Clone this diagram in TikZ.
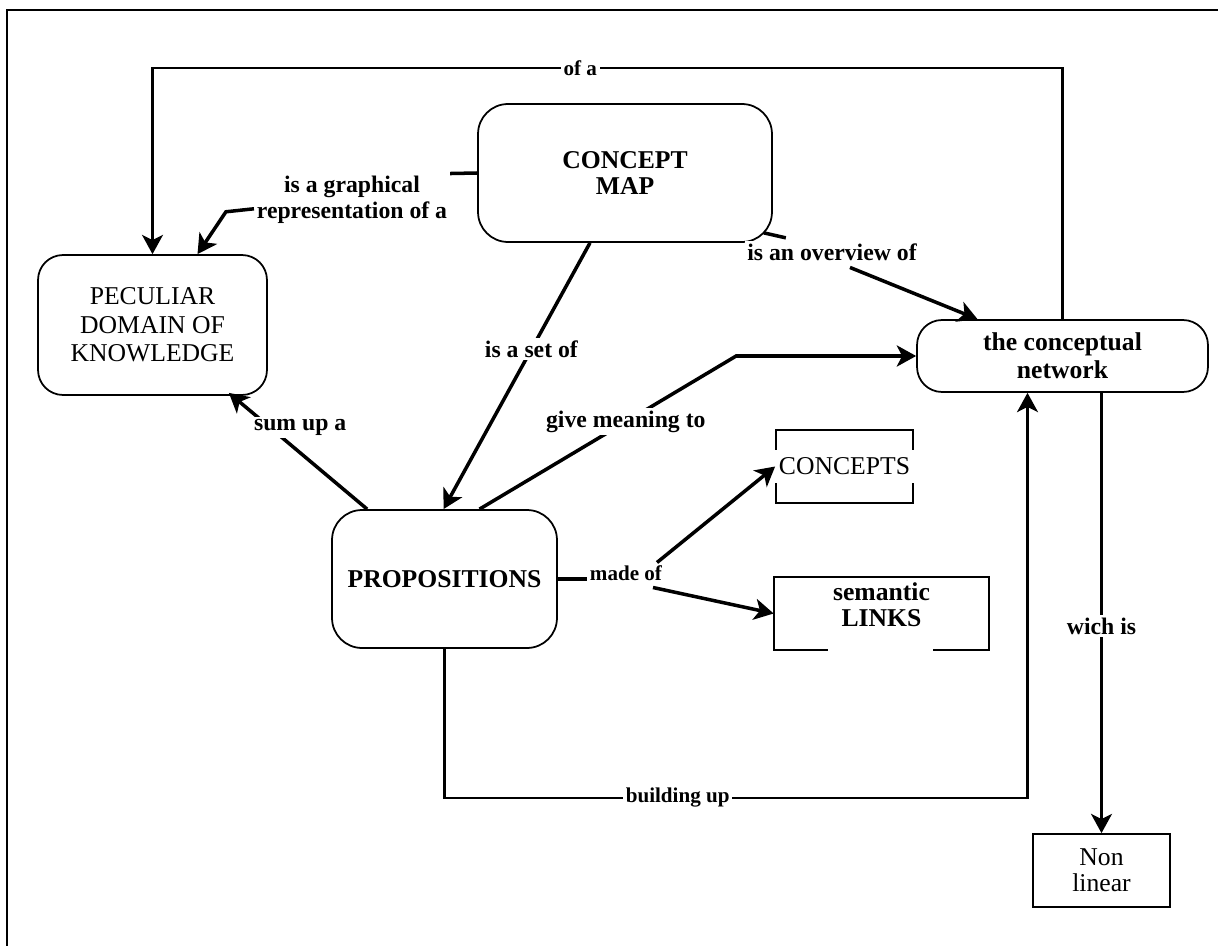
\documentclass[tikz,border=0pt]{standalone}
\usepackage{fontspec}
\setmainfont{Liberation Serif}
\usetikzlibrary{arrows.meta,calc}

\begin{document}
\begin{tikzpicture}[x=0.02cm, y=-0.02cm,
    concept/.style={draw, line width=1pt, align=center, font=\fontsize{14.6}{16.2}\selectfont},
    box/.style={draw, line width=1pt, align=center, font=\fontsize{14.6}{15}\selectfont},
    lbl/.style={fill=white, inner sep=1.5pt, align=center, font=\bfseries\fontsize{13.5}{14.5}\selectfont},
    small lbl/.style={lbl, font=\bfseries\fontsize{12}{13}\selectfont},
    link/.style={line width=2pt, -{Stealth[length=11pt, width=12pt, inset=3pt]}},
    wire/.style={line width=1.3pt, -{Stealth[length=11pt, width=12pt, inset=3pt]}}]
        \useasboundingbox (0,0) rectangle (1218,946);
        \draw[line width=1.2pt] (7,946) -- (7,10) -- (1218,10);

        \node[concept, font=\bfseries\fontsize{14.6}{15}\selectfont, rounded corners=0.6cm,
              minimum width=5.88cm, minimum height=2.76cm] (map) at (625,173) {CONCEPT\\MAP};
        \node[concept, rounded corners=0.5cm, minimum width=4.58cm, minimum height=2.8cm]
              (domain) at (152.5,325) {PECULIAR\\DOMAIN OF\\KNOWLEDGE};
        \node[concept, font=\bfseries\fontsize{14.6}{16}\selectfont, rounded corners=0.5cm,
              minimum width=5.82cm, minimum height=1.44cm] (network) at (1062.5,356) {the conceptual\\network};
        \node[concept, font=\bfseries\fontsize{14.6}{16}\selectfont, rounded corners=0.6cm,
              minimum width=4.5cm, minimum height=2.76cm] (prop) at (444.5,579) {PROPOSITIONS};

        \node[box, minimum width=2.74cm, minimum height=1.46cm] (concepts) at (844.5,466.5) {};
        \node[fill=white, inner xsep=0.09cm, inner ysep=0.16cm, font=\fontsize{14.6}{16}\selectfont]
              (conceptstxt) at (concepts) {CONCEPTS};

        % box with an open stretch in its bottom edge
        \node[minimum width=4.3cm, minimum height=1.46cm] (links) at (881.5,613.5) {};
        \draw[line width=1pt] ($(links.south west)+(54,0)$) -- (links.south west) -- (links.north west)
              -- (links.north east) -- (links.south east) -- ($(links.south east)+(-56,0)$);
        \node[font=\bfseries\fontsize{14.6}{15}\selectfont, align=center]
              (linkstxt) at ($(links.center)+(0,-9)$) {semantic\\LINKS};

        \node[box, minimum width=2.74cm, minimum height=1.46cm] (nonlin) at (1101.5,870.5) {Non\\linear};

        \node[lbl] (graph) at (352,200) {is a graphical\\representation of a};
        \node[lbl] (overview) at (832,252) {is an overview of};
        \node[small lbl] (made) at (626,573) {made of};

        \draw[wire] (network.north) -- (network.north |- 0,68) -| node[small lbl, pos=0.265] {of a} (domain.north);

        \draw[link, -] (map.west) -- (graph.north east);
        \draw[link] ([yshift=-5pt]graph.west) -- ++(-28,3) -- ($(domain.north)+(45,0)$);

        \draw[link] ($(map.south)+(-35,0)$) -- node[lbl, pos=0.4] {is a set of} ($(prop.north)+(-1,0)$);

        \draw[link, -] ($(map.south east)+(-9,-10)$) -- ++(22,5);
        \draw[link] ($(overview.south)+(18,4)$) -- ($(network.north)+(-85,0)$);

        \draw[link] ($(prop.north west)+(36,0)$) -- node[lbl, pos=0.7, xshift=17pt] {sum up a}
              ($(domain.south east)+(-39,-3)$);
        \draw[link] ($(prop.north)+(35,0)$) -- node[lbl, pos=0.57] {give meaning to}
              ($(network.west)+(-180,0)$) -- (network.west);

        \draw[link, -] (prop.east) -- (prop.east -| made.west);
        \draw[link] ($(made.north east)+(-8,0)$) -- (concepts.west);
        \draw[link] ($(made.south east)+(-12,4)$) -- (links.west);

        \draw[wire] (prop.south) -- (prop.south |- 0,798) -| node[small lbl, pos=0.2] {building up}
              ($(network.south)+(-35,0)$);
        \draw[wire] ($(network.south)+(39,0)$) -- node[lbl, pos=0.53] {wich is} (nonlin.north);
      \end{tikzpicture}
\end{document}
